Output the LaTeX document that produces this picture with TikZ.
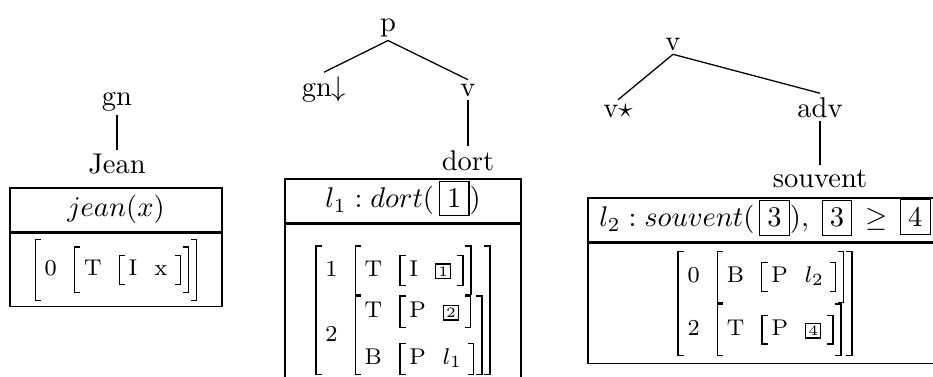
\documentclass[tikz,border=0pt]{standalone}
\usepackage{amsmath}
% header tags and small tags
\newcommand{\tg}[1]{{\setlength{\fboxsep}{2.5pt}\fbox{#1}}}
\newcommand{\stg}[1]{{\setlength{\fboxsep}{0.7pt}\fbox{\tiny #1}}}
% brackets of a given height
\newcommand{\lbk}[1]{\vcenter{\hbox{\vrule width 0.45pt height #1 depth 0pt\vbox to #1{\hrule width 1.8pt height 0.45pt\vfill\hrule width 1.8pt height 0.45pt}}}}
\newcommand{\rbk}[1]{\vcenter{\hbox{\vbox to #1{\hrule width 1.8pt height 0.45pt\vfill\hrule width 1.8pt height 0.45pt}\vrule width 0.45pt height #1 depth 0pt}}}
% one-line pair: height, label, value
\newcommand{\pr}[3]{\lbk{#1}\hspace{1.3pt}#2\hspace{6pt}#3\hspace{0.6pt}\rbk{#1}}
% several lines
\newcommand{\mrow}[1]{\begingroup\setbox0=\hbox{$\begin{array}{@{}l@{\hspace{6pt}}l@{}}#1\end{array}$}%
  \dimen0=\ht0 \advance\dimen0 by \dp0
  \lbk{\dimen0}\hspace{1.3pt}\box0\hspace{0.6pt}\rbk{\dimen0}\endgroup}
\newcommand{\ft}[1]{\mathrm{#1}}
\begin{document}
\begin{tikzpicture}[x=0.3509pt,y=-0.3509pt,
  lab/.style={inner sep=1.2pt, anchor=base},
  edge/.style={draw, line width=0.45pt},
  hdr/.style={draw, line width=0.5pt, inner sep=0pt, minimum height=15.4pt, text height=10.1pt, text depth=5.26pt},
  bdy/.style={draw, line width=0.5pt, inner sep=0pt, anchor=north, font=\footnotesize}]
\useasboundingbox (0,0) rectangle (933,376);
\clip (0,0) rectangle (933,376);
% left tree
\node[lab] (gn) at (117,105) {gn};
\node[lab] (jean) at (117,173) {Jean};
\draw[edge] (gn.south) -- (jean.north);
\node[hdr, minimum width=74.4pt] (h1) at (116,210) {$jean(x)$};
\node[bdy, minimum width=74.4pt, minimum height=25.6pt] (b1) at (h1.south)
  {$\pr{22pt}{0}{\pr{16.5pt}{\ft{T}}{\pr{10.5pt}{\ft{I}}{\ft{x}\hspace{2pt}}}}$};
% middle tree
\node[lab] (p) at (388,31) {p};
\node[lab] (gnd) at (324,96) {gn$\downarrow$};
\node[lab] (v1) at (468,96) {v};
\node[lab] (dort) at (468,170) {dort};
\draw[edge] (p.south) -- (gnd.north);
\draw[edge] (p.south) -- (v1.north);
\draw[edge] (v1.south) -- (dort.north);
\node[hdr, minimum width=82.8pt] (h2) at (403,201) {$l_1 : dort(\,\tg{1})$};
\node[bdy, minimum width=82.8pt, minimum height=60.4pt] (b2) at (h2.south)
  {$\mrow{1 & \pr{17.5pt}{\ft{T}}{\pr{11pt}{\ft{I}}{\stg{1}\hspace{1.5pt}}} \\[0.5pt]
          2 & \mrow{\ft{T} & \pr{11.5pt}{\ft{P}}{\stg{2}\hspace{1.5pt}} \\[6pt]
                    \ft{B} & \pr{11.5pt}{\ft{P}}{l_1\hspace{1.5pt}}}}$};
% right tree
\node[lab] (v2) at (673,50) {v};
\node[lab] (vs) at (618,117) {v$\star$};
\node[lab] (adv) at (820,117) {adv};
\node[lab] (souv) at (820,187) {souvent};
\draw[edge] (v2.south) -- (vs.north);
\draw[edge] (v2.south) -- (adv.north);
\draw[edge] (adv.south) -- (souv.north);
\node[hdr, minimum width=124.2pt] (h3) at (765,220) {$l_2 : souvent(\,\tg{3}),\;\tg{3}\,\geq\,\tg{4}$};
\node[bdy, minimum width=124.2pt, minimum height=42.1pt] (b3) at (h3.south)
  {$\mrow{0 & \pr{18.5pt}{\ft{B}}{\pr{10.5pt}{\ft{P}}{l_2\hspace{1.5pt}}} \\[2.5pt]
          2 & \pr{18.5pt}{\ft{T}}{\pr{10.5pt}{\ft{P}}{\stg{4}\hspace{1.5pt}}}}$};
\end{tikzpicture}
\end{document}
